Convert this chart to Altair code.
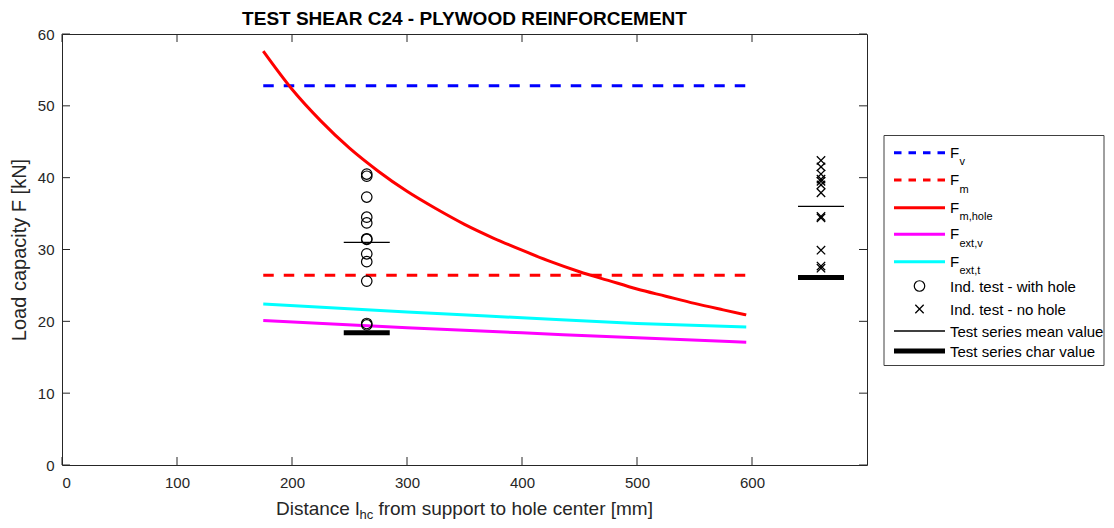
import altair as alt
import pandas as pd

# ---------------- data ----------------
x_range = [175, 595]
F_v = 52.8
F_m = 26.4
x_curve = [175, 200, 225, 250, 275, 300, 325, 350, 375, 400, 425, 450, 475, 500, 525, 550, 575, 595]
F_m_hole = [57.6, 52.3, 47.9, 44.1, 40.9, 38.1, 35.7, 33.5, 31.6, 29.9, 28.3, 26.9, 25.7, 24.5, 23.5, 22.5, 21.6, 20.9]
x_ext = [175, 300, 400, 500, 595]
F_ext_v = [20.1, 19.1, 18.4, 17.7, 17.1]
F_ext_t = [22.4, 21.3, 20.5, 19.7, 19.2]
x_hole = 265
tests_hole = [40.5, 40.2, 37.3, 34.5, 33.7, 31.5, 31.4, 29.4, 28.3, 25.6, 19.7, 19.5]
mean_hole = 31.0
char_hole = 18.4
x_nohole = 660
tests_nohole = [42.4, 41.5, 40.5, 39.8, 39.5, 39.0, 37.9, 34.6, 34.4, 29.9, 27.7, 27.4]
mean_nohole = 36.0
char_nohole = 26.1
half_width = 20
x_ticks = [0, 100, 200, 300, 400, 500, 600]
y_ticks = [0, 10, 20, 30, 40, 50, 60]
title_text = "TEST SHEAR C24 - PLYWOOD REINFORCEMENT"

# ---------------- layout / style ----------------
FONT = "Liberation Sans"
AX = "#262626"
W, H = 805, 431
OX, OY = 62, 34
xs = alt.Scale(domain=[0, 700], nice=False, zero=False)
ys = alt.Scale(domain=[0, 60], nice=False, zero=False)

AXX = alt.Axis(values=x_ticks, ticks=False, domain=False, grid=False,
               labelFont=FONT, labelFontSize=15, labelColor=AX, labelPadding=10, title=None)
AXY = alt.Axis(values=y_ticks, ticks=False, domain=False, grid=False,
               labelFont=FONT, labelFontSize=15, labelColor=AX, labelPadding=8,
               title="Load capacity F [kN]", titleFont=FONT, titleFontSize=20,
               titleFontWeight="normal", titleColor=AX, titlePadding=8)


def X(f):
    return alt.X(f, scale=xs, axis=AXX)


def Y(f):
    return alt.Y(f, scale=ys, axis=AXY)


layers = []

# inward ticks (bottom/top, left/right)
xt = pd.DataFrame({"v": x_ticks})
yt = pd.DataFrame({"v": y_ticks})
layers.append(alt.Chart(xt).mark_rule(color=AX, strokeWidth=1).encode(
    x=X("v:Q"), y=alt.value(H), y2=alt.value(H - 8)))
layers.append(alt.Chart(xt).mark_rule(color=AX, strokeWidth=1).encode(
    x=X("v:Q"), y=alt.value(0), y2=alt.value(8)))
layers.append(alt.Chart(yt).mark_rule(color=AX, strokeWidth=1).encode(
    y=Y("v:Q"), x=alt.value(0), x2=alt.value(8)))
layers.append(alt.Chart(yt).mark_rule(color=AX, strokeWidth=1).encode(
    y=Y("v:Q"), x=alt.value(W), x2=alt.value(W - 8)))

# model lines
dash = [10.5, 10]
df_v = pd.DataFrame({"x": x_range, "y": [F_v, F_v]})
df_m = pd.DataFrame({"x": x_range, "y": [F_m, F_m]})
df_mh = pd.DataFrame({"x": x_curve, "y": F_m_hole})
df_ev = pd.DataFrame({"x": x_ext, "y": F_ext_v})
df_et = pd.DataFrame({"x": x_ext, "y": F_ext_t})
layers.append(alt.Chart(df_v).mark_line(color="#0000FF", strokeWidth=3, strokeDash=dash).encode(x=X("x:Q"), y=Y("y:Q")))
layers.append(alt.Chart(df_m).mark_line(color="#FF0000", strokeWidth=3, strokeDash=dash).encode(x=X("x:Q"), y=Y("y:Q")))
layers.append(alt.Chart(df_mh).mark_line(color="#FF0000", strokeWidth=3, interpolate="monotone").encode(x=X("x:Q"), y=Y("y:Q")))
layers.append(alt.Chart(df_ev).mark_line(color="#FF00FF", strokeWidth=3, interpolate="monotone").encode(x=X("x:Q"), y=Y("y:Q")))
layers.append(alt.Chart(df_et).mark_line(color="#00FFFF", strokeWidth=3, interpolate="monotone").encode(x=X("x:Q"), y=Y("y:Q")))

# test results
CROSS = "M-1,-1L1,1M-1,1L1,-1"
df_h = pd.DataFrame({"x": [x_hole] * len(tests_hole), "y": tests_hole})
df_n = pd.DataFrame({"x": [x_nohole] * len(tests_nohole), "y": tests_nohole})
layers.append(alt.Chart(df_h).mark_point(shape="circle", size=110, filled=False, color="black",
                                         strokeWidth=1.2, opacity=1).encode(x=X("x:Q"), y=Y("y:Q")))
layers.append(alt.Chart(df_n).mark_point(shape=CROSS, size=70, filled=False, color="black",
                                         strokeWidth=1.3, opacity=1).encode(x=X("x:Q"), y=Y("y:Q")))
df_mean = pd.DataFrame({"x1": [x_hole - half_width, x_nohole - half_width],
                        "x2": [x_hole + half_width, x_nohole + half_width],
                        "y": [mean_hole, mean_nohole]})
df_char = pd.DataFrame({"x1": [x_hole - half_width, x_nohole - half_width],
                        "x2": [x_hole + half_width, x_nohole + half_width],
                        "y": [char_hole, char_nohole]})
layers.append(alt.Chart(df_mean).mark_rule(color="black", strokeWidth=1.3).encode(
    x=X("x1:Q"), x2="x2:Q", y=Y("y:Q")))
layers.append(alt.Chart(df_char).mark_rule(color="black", strokeWidth=5).encode(
    x=X("x1:Q"), x2="x2:Q", y=Y("y:Q")))


# ---------------- text helpers ----------------
def txt(t, x, y, size, baseline="middle", align="left", color="black", weight="normal"):
    return alt.Chart(pd.DataFrame({"t": [t]})).mark_text(
        align=align, baseline=baseline, fontSize=size, font=FONT, color=color,
        fontWeight=weight).encode(text="t:N", x=alt.value(x), y=alt.value(y))


# chart title
layers.append(txt(title_text, W / 2, -9, 19, baseline="alphabetic", align="center", weight="bold"))

# x-axis title with subscript
xt0 = 214
layers.append(txt("Distance l", xt0, 481, 19, baseline="alphabetic", color=AX))
layers.append(txt("hc", xt0 + 83.4, 484.5, 13, baseline="alphabetic", color=AX))
layers.append(txt("from support to hole center [mm]", xt0 + 83.4 + 13.7 + 5.3, 481, 19,
                  baseline="alphabetic", color=AX))

# ---------------- legend ----------------
lx0, lx1 = 884 - OX, 1104 - OX
ly0, ly1 = 135.5 - OY, 365.5 - OY
df_box = pd.DataFrame({"a": [0]})
layers.append(alt.Chart(df_box).mark_rect(fill="white", stroke="#404040", strokeWidth=1).encode(
    x=alt.value(lx0), x2=alt.value(lx1), y=alt.value(ly0), y2=alt.value(ly1)))

rows = [152.7 - OY, 180 - OY, 207.7 - OY, 234.3 - OY, 261.7 - OY, 286 - OY, 309 - OY, 331 - OY, 351 - OY]
sx0, sx1 = 894 - OX, 945 - OX
tx = 950 - OX
subx = tx + 9.5


def leg_rule(y, color, width, dsh=None):
    kw = dict(color=color, strokeWidth=width)
    if dsh:
        kw["strokeDash"] = dsh
    return alt.Chart(df_box).mark_rule(**kw).encode(x=alt.value(sx0), x2=alt.value(sx1), y=alt.value(y))


leg_entries = [
    ("#0000FF", True, "v"),
    ("#FF0000", True, "m"),
    ("#FF0000", False, "m,hole"),
    ("#FF00FF", False, "ext,v"),
    ("#00FFFF", False, "ext,t"),
]
for i, (c, d, sub) in enumerate(leg_entries):
    layers.append(leg_rule(rows[i], c, 3, [7.5, 7] if d else None))
    layers.append(txt("F", tx, rows[i] + 5, 15, baseline="alphabetic"))
    layers.append(txt(sub, subx, rows[i] + 12.5, 11, baseline="alphabetic"))

cx = (sx0 + sx1) / 2
layers.append(alt.Chart(df_box).mark_point(shape="circle", size=110, filled=False, color="black",
                                           strokeWidth=1.2, opacity=1).encode(x=alt.value(cx), y=alt.value(rows[5])))
layers.append(txt("Ind. test - with hole", tx, rows[5] + 1, 15))
layers.append(alt.Chart(df_box).mark_point(shape=CROSS, size=70, filled=False, color="black",
                                           strokeWidth=1.3, opacity=1).encode(x=alt.value(cx), y=alt.value(rows[6])))
layers.append(txt("Ind. test - no hole", tx, rows[6] + 1, 15))
layers.append(leg_rule(rows[7], "black", 1.3))
layers.append(txt("Test series mean value", tx, rows[7] + 1, 15))
layers.append(leg_rule(rows[8], "black", 5))
layers.append(txt("Test series char value", tx, rows[8] + 1, 15))

chart = alt.layer(*layers).properties(
    width=W, height=H,
    padding={"left": OX - 8, "top": OY - 8, "right": 1098 - (OX - 8) - W, "bottom": 512 - (OY - 8) - H},
    autosize=alt.AutoSizeParams(type="none"),
    background="white",
).configure_view(stroke=AX, strokeWidth=1)

chart.save("out.html", embed_options={"renderer": "svg", "actions": False})
